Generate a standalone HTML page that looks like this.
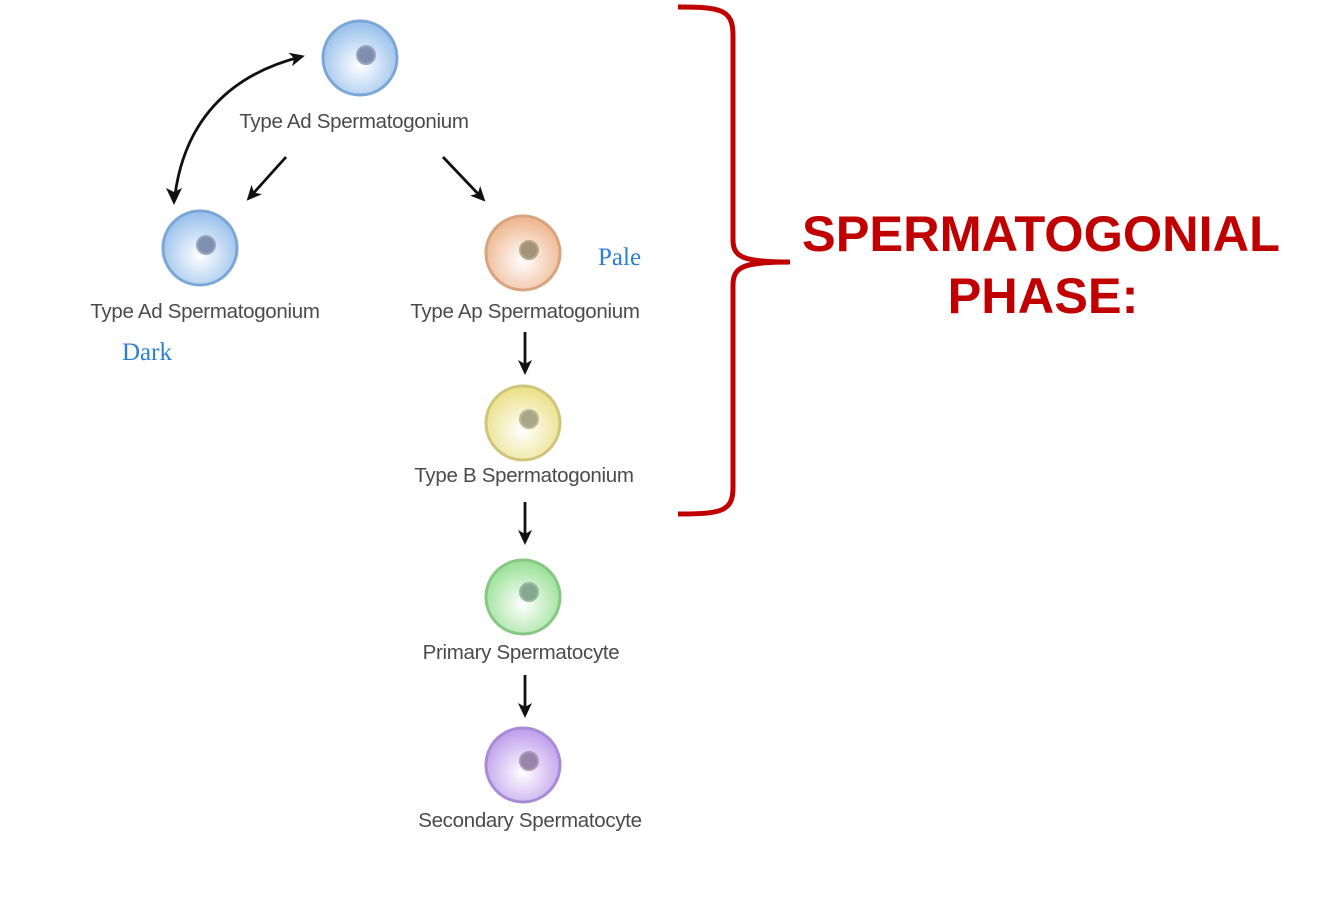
<!DOCTYPE html>
<html><head><style>
body{margin:0;background:#fff;width:1334px;height:900px;overflow:hidden}
svg{display:block}
.l{font-family:"Liberation Sans",sans-serif;font-size:20.5px;fill:#4a4a4a;text-anchor:middle;letter-spacing:-0.3px}
.s{font-family:"Liberation Serif",serif;font-size:25px;fill:#2a7fd4}
.r{font-family:"Liberation Sans",sans-serif;font-weight:bold;font-size:50.5px;fill:#c00000;text-anchor:middle}
</style></head><body>
<svg width="1334" height="900" viewBox="0 0 1334 900">
<defs>
<radialGradient id="gb" cx="0.5" cy="0.6" r="0.55"><stop offset="0" stop-color="#fff"/><stop offset="1" stop-color="#9cc3ec"/></radialGradient>
<radialGradient id="go" cx="0.5" cy="0.6" r="0.55"><stop offset="0" stop-color="#fff"/><stop offset="1" stop-color="#efb993"/></radialGradient>
<radialGradient id="gy" cx="0.5" cy="0.6" r="0.55"><stop offset="0" stop-color="#fff"/><stop offset="1" stop-color="#ece28e"/></radialGradient>
<radialGradient id="gg" cx="0.5" cy="0.6" r="0.55"><stop offset="0" stop-color="#fff"/><stop offset="1" stop-color="#9ee29a"/></radialGradient>
<radialGradient id="gp" cx="0.5" cy="0.6" r="0.55"><stop offset="0" stop-color="#fff"/><stop offset="1" stop-color="#c1a2ec"/></radialGradient>
<marker id="a" markerWidth="16" markerHeight="16" refX="10" refY="7" orient="auto" markerUnits="userSpaceOnUse"><path d="M0,0 L15,7 L0,14 L4,7 Z" fill="#111"/></marker>
</defs>
<g stroke-width="3">
<circle cx="360" cy="58" r="37" fill="url(#gb)" stroke="#7aa7d8"/><circle cx="366" cy="55" r="9" fill="#7f8fb0" stroke="#9aa5c0" stroke-width="2"/>
<circle cx="200" cy="248" r="37" fill="url(#gb)" stroke="#7aa7d8"/><circle cx="206" cy="245" r="9" fill="#7f8fb0" stroke="#9aa5c0" stroke-width="2"/>
<circle cx="523" cy="253" r="37" fill="url(#go)" stroke="#d9a37e"/><circle cx="529" cy="250" r="9" fill="#a39478" stroke="#b8a88c" stroke-width="2"/>
<circle cx="523" cy="423" r="37" fill="url(#gy)" stroke="#cfc57a"/><circle cx="529" cy="419" r="9" fill="#a8a888" stroke="#bbb99a" stroke-width="2"/>
<circle cx="523" cy="597" r="37" fill="url(#gg)" stroke="#84c884"/><circle cx="529" cy="592" r="9" fill="#84a890" stroke="#98b8a0" stroke-width="2"/>
<circle cx="523" cy="765" r="37" fill="url(#gp)" stroke="#a98ad6"/><circle cx="529" cy="761" r="9" fill="#9a84ac" stroke="#ad98bd" stroke-width="2"/>
</g>
<text class="l" x="354" y="128">Type Ad Spermatogonium</text>
<text class="l" x="205" y="318">Type Ad Spermatogonium</text>
<text class="l" x="525" y="318">Type Ap Spermatogonium</text>
<text class="l" x="524" y="482">Type B Spermatogonium</text>
<text class="l" x="521" y="659">Primary Spermatocyte</text>
<text class="l" x="530" y="827">Secondary Spermatocyte</text>
<text class="s" x="598" y="265">Pale</text>
<text class="s" x="122" y="360">Dark</text>
<g stroke="#111" stroke-width="2.8" fill="none" marker-end="url(#a)">
<path d="M175,195 C185,120 230,75 300,57" />
<line x1="286" y1="157" x2="250" y2="197"/>
<line x1="443" y1="157" x2="482" y2="198"/>
<line x1="525" y1="332" x2="525" y2="370"/>
<line x1="525" y1="502" x2="525" y2="540"/>
<line x1="525" y1="675" x2="525" y2="713"/>
</g>
<path d="M174,205 L166,188 L174,192 L182,188 Z" fill="#111"/>
<path d="M678,7 C720,7 733,9 733,35 L733,240 C733,258 745,262 790,262 C745,262 733,266 733,285 L733,488 C733,512 720,514 678,514" fill="none" stroke="#c00000" stroke-width="5"/>
<text class="r" x="1041" y="251">SPERMATOGONIAL</text>
<text class="r" x="1043" y="313">PHASE:</text>
</svg>
</body></html>
